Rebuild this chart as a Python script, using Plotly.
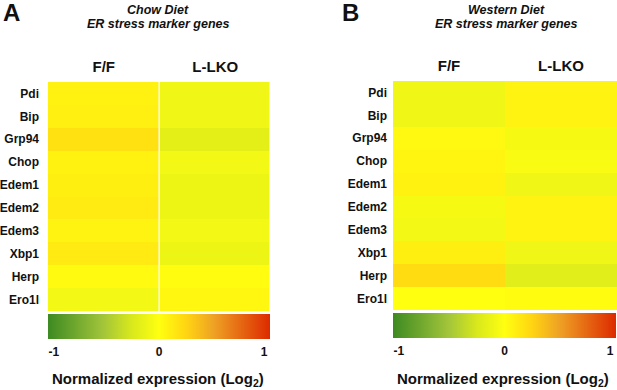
import plotly.graph_objects as go

genes = ["Pdi", "Bip", "Grp94", "Chop", "Edem1", "Edem2", "Edem3", "Xbp1", "Herp", "Ero1l"]
groups = ["F/F", "L-LKO"]

chow_ff = [0.08, 0.09, 0.19, 0.08, 0.10, 0.12, 0.07, 0.12, 0.03, -0.08]
chow_lko = [-0.10, -0.10, -0.18, -0.08, -0.12, -0.12, -0.08, -0.12, 0.02, 0.05]
west_ff = [-0.10, -0.10, 0.04, 0.06, 0.08, -0.06, -0.08, 0.10, 0.22, 0.00]
west_lko = [0.07, 0.07, -0.06, -0.04, -0.10, 0.07, 0.07, -0.10, -0.20, 0.02]

cbar_ticks = [-1, 0, 1]
panel_letters = ["A", "B"]
panel_titles = ["Chow Diet", "Western Diet"]
subtitle = "ER stress marker genes"
cbar_title = "Normalized expression (Log<sub>2</sub>)"

colorscale = [
    [0.0, "#3d8a22"],
    [0.25, "#a3c53a"],
    [0.375, "#d8e81c"],
    [0.5, "#ffff10"],
    [0.625, "#ffd412"],
    [0.75, "#eea024"],
    [1.0, "#dd2a00"],
]
ZLIM = 1.055  # colour bar extends slightly past the labelled ±1 ticks

W, H = 617, 390
FONT = "Liberation Sans, Arial, sans-serif"

def fx(px):
    return px / W

def fy(py):
    return 1 - py / H

def zmat(a, b):
    return [[a[i], b[i]] for i in range(len(genes))]

fig = go.Figure()

panels = [
    dict(z=zmat(chow_ff, chow_lko), xa="x", ya="y", x0=48, x1=271, y0=82, y1=311,
         cb_y=314, gap=1.5),
    dict(z=zmat(west_ff, west_lko), xa="x2", ya="y2", x0=393, x1=617, y0=81, y1=310,
         cb_y=313, gap=0),
]

for i, p in enumerate(panels):
    fig.add_trace(go.Heatmap(
        z=p["z"], x=groups, y=genes, xaxis=p["xa"], yaxis=p["ya"],
        colorscale=colorscale, zmin=-ZLIM, zmax=ZLIM, xgap=p["gap"],
        showscale=True, hoverinfo="skip",
        colorbar=dict(
            orientation="h", x=fx(p["x0"]), xanchor="left", y=fy(p["cb_y"]), yanchor="top",
            len=p["x1"] - p["x0"] - 1, lenmode="pixels", thickness=25, thicknessmode="pixels",
            xpad=0, ypad=0, outlinewidth=0, tickvals=cbar_ticks, ticktext=["-1", "0", "1"],
            ticks="outside", ticklen=3, tickcolor="rgba(0,0,0,0)",
            tickfont=dict(family=FONT, size=12, color="#111", weight="bold"),
        ),
    ))

layout_axes = {}
for i, p in enumerate(panels):
    sfx = "" if i == 0 else "2"
    layout_axes["xaxis" + sfx] = dict(
        domain=[fx(p["x0"]), fx(p["x1"])], anchor="y" + sfx, side="top",
        showgrid=False, zeroline=False, showline=False, ticks="",
        tickfont=dict(family=FONT, size=15, color="#111", weight="bold"), ticklabelstandoff=6,
        fixedrange=True,
    )
    layout_axes["yaxis" + sfx] = dict(
        domain=[fy(p["y1"]), fy(p["y0"])], anchor="x" + sfx, autorange="reversed",
        showgrid=False, zeroline=False, showline=False, ticks="",
        tickfont=dict(family=FONT, size=12, color="#111", weight="bold"),
        ticklabelstandoff=8 if i == 0 else 5,
        fixedrange=True,
    )

annotations = []
letter_x = [11, 350]
title_cx = [158, 506]
cbar_title_cx = [158, 503]
for i in range(2):
    annotations.append(dict(text="<b>" + panel_letters[i] + "</b>", x=fx(letter_x[i]), y=fy(13),
                            xref="paper", yref="paper", showarrow=False, xanchor="center", yanchor="middle",
                            font=dict(family=FONT, size=24, color="#111")))
    annotations.append(dict(text="<b><i>" + panel_titles[i] + "</i></b>", x=fx(title_cx[i]), y=fy(10),
                            xref="paper", yref="paper", showarrow=False, xanchor="center", yanchor="middle",
                            font=dict(family=FONT, size=12.5, color="#111")))
    annotations.append(dict(text="<b><i>" + subtitle + "</i></b>", x=fx(title_cx[i]), y=fy(24),
                            xref="paper", yref="paper", showarrow=False, xanchor="center", yanchor="middle",
                            font=dict(family=FONT, size=12.5, color="#111")))
    annotations.append(dict(text="<b>" + cbar_title + "</b>", x=fx(cbar_title_cx[i]), y=fy(379),
                            xref="paper", yref="paper", showarrow=False, xanchor="center", yanchor="middle",
                            font=dict(family=FONT, size=15, color="#111")))

fig.update_layout(
    width=W, height=H, margin=dict(l=0, r=0, t=0, b=0),
    paper_bgcolor="white", plot_bgcolor="white",
    annotations=annotations, **layout_axes,
)

fig.write_html(
    "out.html",
    config={"displayModeBar": False},
    post_script="document.body.style.margin='0px';document.body.style.overflow='hidden';",
)
